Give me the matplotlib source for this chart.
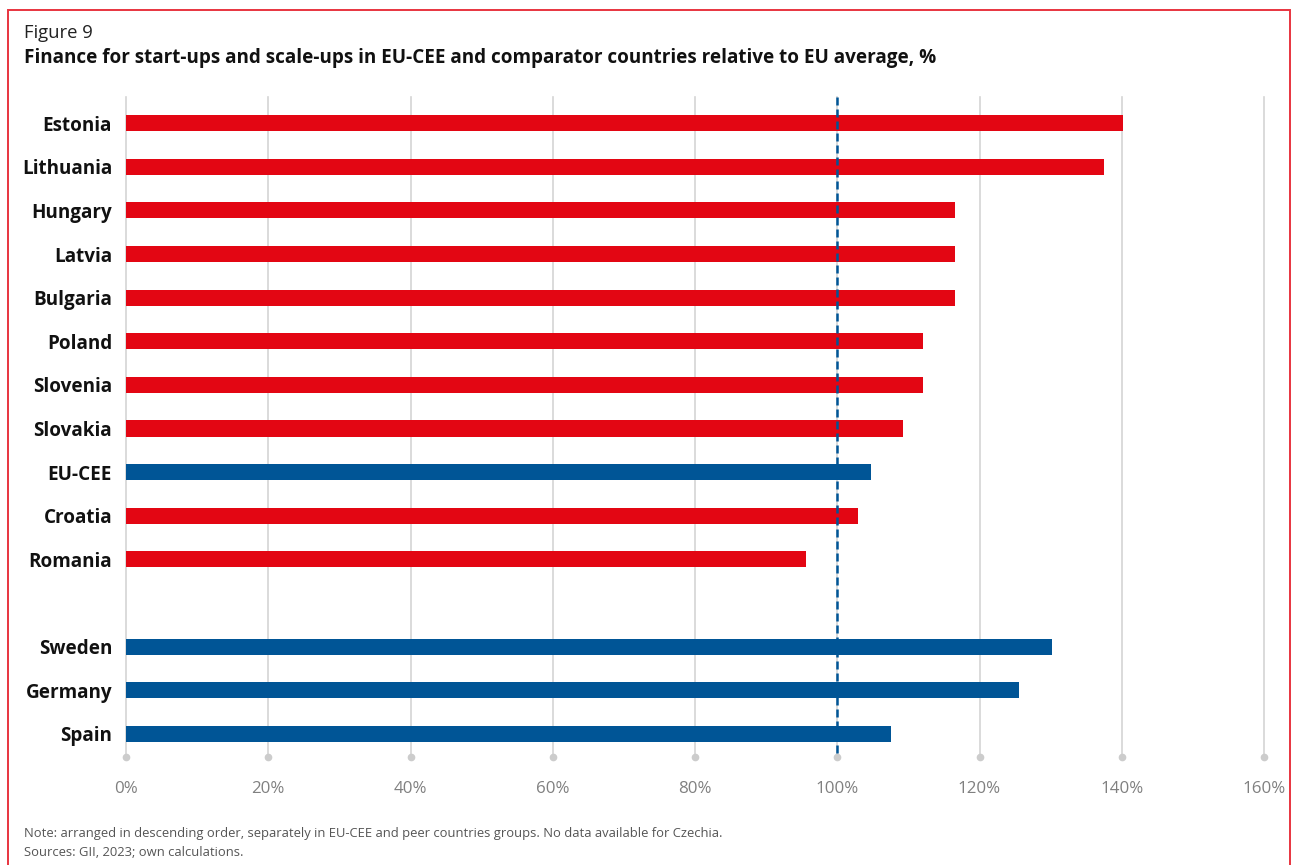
import matplotlib.pyplot as plt
from matplotlib.patches import Rectangle

plt.rcParams['font.family'] = ['Open Sans', 'DejaVu Sans']

# EU-CEE group, then a blank row, then the peer countries
countries = ['Estonia', 'Lithuania', 'Hungary', 'Latvia', 'Bulgaria', 'Poland',
             'Slovenia', 'Slovakia', 'EU-CEE', 'Croatia', 'Romania', '',
             'Sweden', 'Germany', 'Spain']
values = [140.2, 137.5, 116.5, 116.5, 116.5, 112.0,
          112.0, 109.3, 104.8, 102.9, 95.6, None,
          130.2, 125.6, 107.5]
groups = ['cee', 'cee', 'cee', 'cee', 'cee', 'cee',
          'cee', 'cee', 'avg', 'cee', 'cee', None,
          'peer', 'peer', 'peer']
xticks = [0, 20, 40, 60, 80, 100, 120, 140, 160]
eu_average = 100

RED = '#e30613'
BLUE = '#005596'
colors = {'cee': RED, 'avg': BLUE, 'peer': BLUE}

fig = plt.figure(figsize=(12.93, 8.65), dpi=100)
ax = fig.add_axes([126 / 1293, 1 - 757 / 865, 1138 / 1293, 660 / 865])

ymax = 14.53
for t in xticks:
    ax.plot([t, t], [-0.6, ymax], color='#d4d4d4', lw=1.2, zorder=0,
            clip_on=False)
    ax.plot([t], [ymax], marker='o', ms=4.5, color='#cccccc', clip_on=False,
            zorder=1)

for i, (v, g) in enumerate(zip(values, groups)):
    if v is None:
        continue
    ax.barh(i, v, height=0.37, color=colors[g], zorder=2)

ax.plot([eu_average, eu_average], [-0.6, ymax], color=BLUE, lw=1.8,
        ls=(0, (3.2, 1.6)), zorder=3, clip_on=False)

ax.set_xlim(0, 160)
ax.set_ylim(ymax, -0.6)
ax.set_yticks(range(len(countries)))
ax.set_yticklabels(countries, fontsize=13.6, fontweight='bold', color='#111111')
ax.set_xticks(xticks)
ax.set_xticklabels([f'{t}%' for t in xticks], fontsize=12.2, color='#808080')
ax.tick_params(axis='y', length=0, pad=10)
ax.tick_params(axis='x', length=0, pad=17)
for s in ax.spines.values():
    s.set_visible(False)

fig.text(24 / 1293, 1 - 33 / 865, 'Figure 9', fontsize=13.3, color='#222222',
         va='center', ha='left')
fig.text(24 / 1293, 1 - 58 / 865,
         'Finance for start-ups and scale-ups in EU-CEE and comparator '
         'countries relative to EU average, %',
         fontsize=13.6, fontweight='bold', color='#111111', va='center',
         ha='left')
fig.text(24 / 1293, 1 - 833 / 865,
         'Note: arranged in descending order, separately in EU-CEE and peer '
         'countries groups. No data available for Czechia.',
         fontsize=9.4, color='#555555', va='center', ha='left')
fig.text(24 / 1293, 1 - 853 / 865, 'Sources: GII, 2023; own calculations.',
         fontsize=9.4, color='#555555', va='center', ha='left')

fig.patches.append(Rectangle((8 / 1293, -0.02), 1282 / 1293,
                             1 - 10 / 865 + 0.02, transform=fig.transFigure,
                             fill=False, edgecolor='#e8343f', lw=1.4))

fig.savefig('out.png', dpi=100)
